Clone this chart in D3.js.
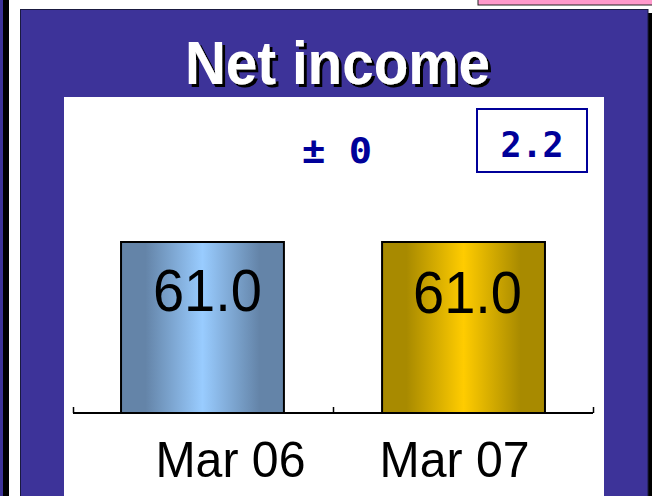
<!DOCTYPE html>
<html>
<head>
<meta charset="utf-8">
<script src="https://cdn.jsdelivr.net/npm/d3@7"></script>
<style>
  body { margin: 0; background: #fff; }
  svg { display: block; }
</style>
</head>
<body>
<svg id="chart" width="652" height="496"></svg>
<script>
// values
const categories = ["Mar 06", "Mar 07"];
const values = [61.0, 61.0];
const title = "Net income";
const changeText = "\u00b1 0";
const boxText = "2.2";

const width = 652, height = 496;
const purple = "#3d3399", navy = "#000099";

const svg = d3.select("#chart");
const defs = svg.append("defs");

// horizontal "cylinder" gradients for the two bars
const grads = [
    { id: "gBlue", edge: "#6484a8", mid: "#99ccff" },
    { id: "gGold", edge: "#a88a00", mid: "#ffcc00" }
];
grads.forEach(function (g) {
    const lg = defs.append("linearGradient").attr("id", g.id)
        .attr("x1", "0%").attr("x2", "100%").attr("y1", "0%").attr("y2", "0%");
    lg.append("stop").attr("offset", "0%").attr("stop-color", g.edge);
    lg.append("stop").attr("offset", "15%").attr("stop-color", g.edge);
    lg.append("stop").attr("offset", "50%").attr("stop-color", g.mid);
    lg.append("stop").attr("offset", "85%").attr("stop-color", g.edge);
    lg.append("stop").attr("offset", "100%").attr("stop-color", g.edge);
});

// hard drop shadow for the title
defs.append("filter").attr("id", "shadow")
    .attr("x", "-5%").attr("y", "-5%").attr("width", "115%").attr("height", "120%")
    .append("feDropShadow")
    .attr("dx", 3).attr("dy", 3).attr("stdDeviation", 0)
    .attr("flood-color", "#000").attr("flood-opacity", 1);

// slide furniture: neighbour panel edge, pink tab, shadow, frame
svg.append("rect").attr("x", 0).attr("y", 0).attr("width", 3).attr("height", height).attr("fill", purple);
svg.append("rect").attr("x", 3).attr("y", 0).attr("width", 6).attr("height", height).attr("fill", "#000");
svg.append("rect").attr("x", 478).attr("y", -2).attr("width", 180).attr("height", 7)
    .attr("fill", "#ff99cc").attr("stroke", "#222").attr("stroke-width", 1);
svg.append("rect").attr("x", 648).attr("y", 13).attr("width", 4).attr("height", height).attr("fill", "#000");
svg.append("rect").attr("x", 20.5).attr("y", 9.5).attr("width", 627.5).attr("height", height)
    .attr("fill", purple).attr("stroke", "#1a1a40").attr("stroke-width", 1);

// white plot card
svg.append("rect").attr("x", 64).attr("y", 97).attr("width", 540).attr("height", height - 97).attr("fill", "#fff");

// title
svg.append("text")
    .attr("x", 337.5).attr("y", 84)
    .attr("text-anchor", "middle")
    .attr("textLength", 305).attr("lengthAdjust", "spacingAndGlyphs")
    .style("font-family", "Liberation Sans, Arial, sans-serif")
    .style("font-size", "61px").style("font-weight", "bold")
    .attr("fill", "#fff")
    .attr("filter", "url(#shadow)")
    .text(title);

// scales
const x = d3.scaleBand()
    .domain(categories)
    .range([73, 593])
    .paddingInner(0.376)
    .paddingOuter(0.184);

const y = d3.scaleLinear()
    .domain([0, 61])
    .range([413, 242]);

const g = svg.append("g");

g.selectAll("rect.bar")
    .data(values)
    .enter().append("rect")
    .attr("class", "bar")
    .attr("x", function (d, i) { return x(categories[i]); })
    .attr("y", function (d) { return y(d); })
    .attr("width", x.bandwidth())
    .attr("height", function (d) { return y(0) - y(d); })
    .attr("fill", function (d, i) { return "url(#" + grads[i].id + ")"; })
    .attr("stroke", "#000")
    .attr("stroke-width", 2);

// value labels inside the bars
const valueNudge = [5, 4];
g.selectAll("text.val")
    .data(values)
    .enter().append("text")
    .attr("class", "val")
    .attr("x", function (d, i) { return x(categories[i]) + x.bandwidth() / 2 + valueNudge[i]; })
    .attr("y", function (d, i) { return y(d) + 69 + i * 2; })
    .attr("text-anchor", "middle")
    .attr("textLength", 109).attr("lengthAdjust", "spacingAndGlyphs")
    .style("font-family", "Liberation Sans, Arial, sans-serif")
    .style("font-size", "60px")
    .attr("fill", "#000")
    .text(function (d) { return d.toFixed(1); });

// category axis: baseline with upward ticks at band edges
const axis = d3.axisTop(d3.scaleLinear().domain([0, 2]).range([73, 593]))
    .ticks(2).tickSize(6).tickFormat("");
const ax = svg.append("g").attr("transform", "translate(0,413)").call(axis);
ax.select(".domain").remove();
ax.selectAll(".tick line").attr("stroke", "#000").attr("stroke-width", 1.5);
svg.append("line").attr("x1", 73).attr("x2", 593).attr("y1", 413).attr("y2", 413)
    .attr("stroke", "#000").attr("stroke-width", 2);

const labelNudge = [28, -9];
svg.selectAll("text.cat")
    .data(categories)
    .enter().append("text")
    .attr("class", "cat")
    .attr("x", function (d, i) { return x(d) + x.bandwidth() / 2 + labelNudge[i]; })
    .attr("y", 477)
    .attr("text-anchor", "middle")
    .attr("textLength", 150).attr("lengthAdjust", "spacingAndGlyphs")
    .style("font-family", "Liberation Sans, Arial, sans-serif")
    .style("font-size", "50px")
    .attr("fill", "#000")
    .text(function (d) { return d; });

// change annotation and boxed difference
svg.append("text")
    .attr("x", 302).attr("y", 163)
    .attr("textLength", 70).attr("lengthAdjust", "spacingAndGlyphs")
    .style("font-family", "DejaVu Sans Mono, monospace")
    .style("font-size", "35px").style("font-weight", "bold")
    .attr("fill", navy)
    .text(changeText);

svg.append("rect").attr("x", 477).attr("y", 109).attr("width", 110).attr("height", 63)
    .attr("fill", "none").attr("stroke", navy).attr("stroke-width", 2);
svg.append("text")
    .attr("x", 532).attr("y", 157)
    .attr("text-anchor", "middle")
    .style("font-family", "DejaVu Sans Mono, monospace")
    .style("font-size", "35px").style("font-weight", "bold")
    .attr("fill", navy)
    .text(boxText);
</script>
</body>
</html>
